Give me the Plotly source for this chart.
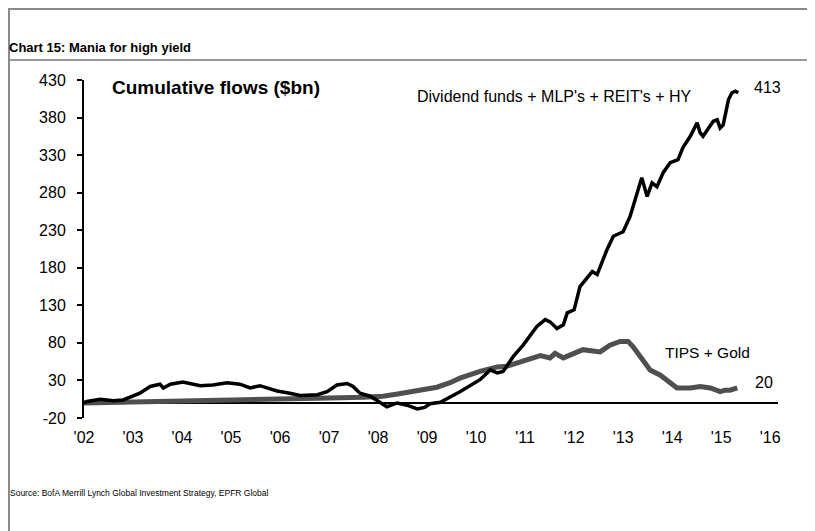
import plotly.graph_objects as go

# ── Data ─────────────────────────────────────────────────────────────────────
HY_X = [2002.0, 2002.06, 2002.33, 2002.6, 2002.8, 2003.0, 2003.14, 2003.35, 2003.55, 2003.62,
        2003.76, 2004.02, 2004.2, 2004.37, 2004.63, 2004.92, 2005.18, 2005.39, 2005.59, 2005.94,
        2006.2, 2006.41, 2006.76, 2006.96, 2007.16, 2007.37, 2007.49, 2007.63, 2007.84, 2008.04,
        2008.18, 2008.39, 2008.59, 2008.8, 2008.95, 2009.06, 2009.27, 2009.67, 2010.08, 2010.29,
        2010.43, 2010.55, 2010.76, 2010.96, 2011.24, 2011.41, 2011.51, 2011.65, 2011.78, 2011.86,
        2012.0, 2012.12, 2012.27, 2012.37, 2012.47, 2012.67, 2012.8, 2013.0, 2013.14, 2013.29,
        2013.38, 2013.49, 2013.59, 2013.69, 2013.82, 2013.96, 2014.12, 2014.22, 2014.37, 2014.51,
        2014.57, 2014.63, 2014.73, 2014.84, 2014.92, 2014.98, 2015.04, 2015.15, 2015.22, 2015.29,
        2015.35]
HY_Y = [0, 2, 5, 3, 4, 9, 13, 22, 25, 20,
        25, 28, 26, 23, 24, 27, 25, 20, 23, 16,
        13, 10, 11, 15, 24, 26, 22, 13, 9, 1,
        -5, 0, -3, -8, -6, -1, 1, 15, 31, 44,
        40, 42, 62, 77, 102, 111, 108, 99, 104, 120,
        124, 155, 168, 175, 171, 204, 222, 228, 248, 280,
        300, 275, 293, 288, 307, 320, 324, 340, 355, 373,
        360, 355, 364, 375, 377, 366, 370, 404, 413, 415,
        413]

TIPS_X = [2002.0, 2003.0, 2004.0, 2005.0, 2006.0, 2007.0, 2007.7, 2008.1, 2008.4, 2008.8,
          2009.2, 2009.47, 2009.67, 2010.08, 2010.43, 2010.63, 2010.96, 2011.31, 2011.51, 2011.61,
          2011.78, 2012.18, 2012.53, 2012.73, 2012.94, 2013.1, 2013.2, 2013.41, 2013.55, 2013.76,
          2013.96, 2014.1, 2014.37, 2014.57, 2014.78, 2014.98, 2015.08, 2015.18, 2015.33]
TIPS_Y = [0, 1, 2.5, 4, 5.5, 6.5, 7.5, 9, 12, 16,
          21, 27, 33, 42, 48, 49, 55, 63, 60, 66,
          60, 71, 68, 77, 82, 82, 75, 55, 44, 37,
          27, 20, 20, 22, 20, 15, 17, 17, 20]

YEARS = list(range(2002, 2017))
YEAR_LABELS = ["'%02d" % (y % 100) for y in YEARS]
Y_TICKS = [-20, 30, 80, 130, 180, 230, 280, 330, 380, 430]
Y_LABELS = [str(v) for v in Y_TICKS]

FONT = "Liberation Sans, Arial, sans-serif"

fig = go.Figure()
fig.add_trace(go.Scatter(x=TIPS_X, y=TIPS_Y, mode="lines", name="TIPS + Gold",
                         line=dict(color="#4f4f4f", width=5)))
fig.add_trace(go.Scatter(x=HY_X, y=HY_Y, mode="lines", name="Dividend funds + MLP's + REIT's + HY",
                         line=dict(color="#000000", width=3.5)))

# the page keeps an 8px body margin, so the figure is 8px smaller and
# positions below are given in window pixels (plot area: x 84..778, y 80..418)
def px(x):
    return (x - 84) / 694


def py(y):
    return (418 - y) / 338


ann = [
    dict(text="<b>Cumulative flows ($bn)</b>", x=2002.53, y=420, font=dict(size=19)),
    dict(text="Dividend funds + MLP's + REIT's + HY", x=2008.76, y=408, font=dict(size=16)),
    dict(text="413", x=2015.63, y=420, font=dict(size=16)),
    dict(text="TIPS + Gold", x=2013.82, y=67, font=dict(size=15.5)),
    dict(text="20", x=2015.65, y=27, font=dict(size=16)),
]
for a in ann:
    fig.add_annotation(xref="x", yref="y", xanchor="left", yanchor="middle",
                       showarrow=False, **a)

fig.add_annotation(text="Source: BofA Merrill Lynch Global Investment Strategy, EPFR Global",
                   xref="paper", yref="paper", x=px(8), y=py(493), xanchor="left",
                   yanchor="middle", showarrow=False, font=dict(size=8.5))

shapes = [
    dict(type="line", xref="paper", yref="paper", x0=px(8), x1=px(815), y0=py(60), y1=py(60),
         line=dict(color="#333333", width=1)),
    dict(type="line", xref="paper", yref="paper", x0=px(8), x1=px(815), y0=py(9), y1=py(9),
         line=dict(color="#8a8a8a", width=2)),
    dict(type="line", xref="paper", yref="paper", x0=px(9), x1=px(9), y0=py(8), y1=py(531),
         line=dict(color="#8a8a8a", width=2)),
]

fig.update_layout(
    width=807, height=523,
    paper_bgcolor="white", plot_bgcolor="white",
    font=dict(family=FONT, color="#000000", size=16),
    margin=dict(l=76, r=37, t=72, b=113),
    showlegend=False,
    shapes=shapes,
    title=dict(text="<b>Chart 15: Mania for high yield</b>", x=1 / 807, y=1 - 39 / 523,
               xanchor="left", yanchor="middle", xref="container", yref="container",
               font=dict(size=13, family=FONT, color="#000000")),
    xaxis=dict(range=[2002, 2016.16], tickvals=YEARS, ticktext=YEAR_LABELS,
               showgrid=False, zeroline=False, showline=False, ticks="",
               ticklabelstandoff=8, tickfont=dict(size=16)),
    yaxis=dict(range=[-20, 430], tickvals=Y_TICKS, ticktext=Y_LABELS, showgrid=False,
               zeroline=True, zerolinecolor="#000000", zerolinewidth=2,
               showline=True, linecolor="#000000", linewidth=2,
               ticks="outside", ticklen=5, tickcolor="#000000", tickwidth=1.5,
               ticklabelstandoff=8, tickfont=dict(size=16)),
)

fig.write_html("out.html")
